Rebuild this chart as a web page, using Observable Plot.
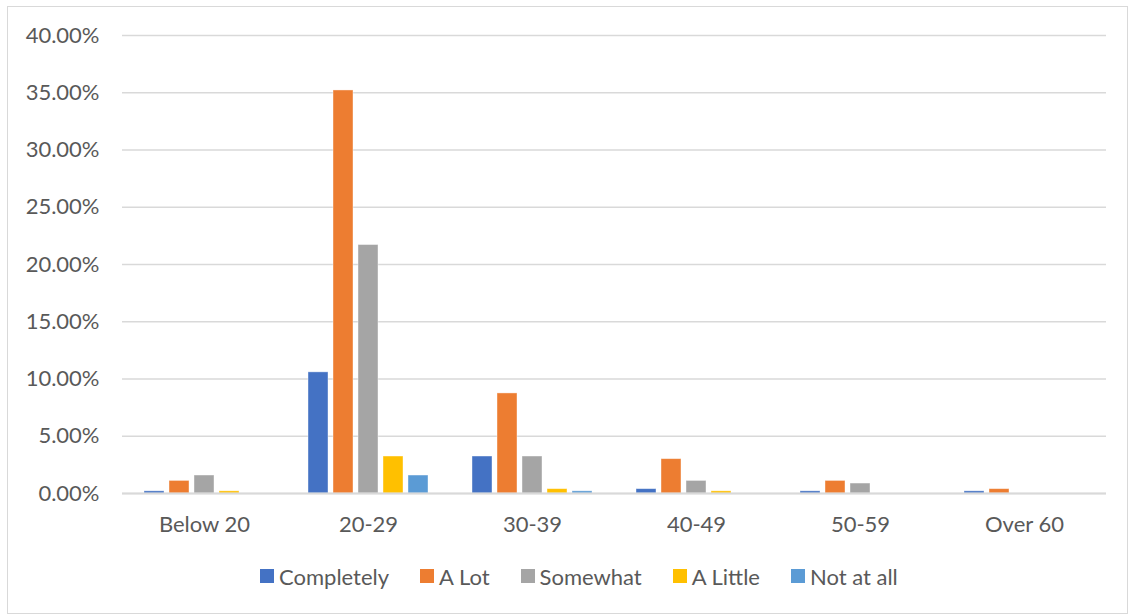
<!DOCTYPE html>
<html>
<head>
<meta charset="utf-8">
<script src="https://cdn.jsdelivr.net/npm/d3@7"></script>
<script src="https://cdn.jsdelivr.net/npm/@observablehq/plot@0.6"></script>
<style>
  html, body { margin: 0; padding: 0; background: #fff; overflow: hidden; }
  #wrap { position: relative; width: 1128px; height: 614px; font-family: Lato, "Open Sans", sans-serif; overflow: hidden; }
  #frame { position: absolute; left: 7px; top: 6px; width: 1121px; height: 608px; border: 1px solid #d9d9d9; box-sizing: border-box; }
  #chart { position: absolute; left: 0; top: 0; }
  #legend { position: absolute; left: 260px; top: 562px; }
</style>
</head>
<body>
<div id="wrap">
  <div id="frame"></div>
  <div id="chart"></div>
  <div id="legend"></div>
</div>
<script>
const categories = ["Below 20", "20-29", "30-39", "40-49", "50-59", "Over 60"];
const series = ["Completely", "A Lot", "Somewhat", "A Little", "Not at all"];
const colors = ["#4472C4", "#ED7D31", "#A5A5A5", "#FFC000", "#5B9BD5"];
const completely = [0.0019, 0.1058, 0.0323, 0.0038, 0.0019, 0.0019];
const aLot       = [0.0110, 0.3520, 0.0874, 0.0300, 0.0110, 0.0038];
const somewhat   = [0.0157, 0.2170, 0.0323, 0.0110, 0.0087, 0];
const aLittle    = [0.0019, 0.0323, 0.0038, 0.0019, 0, 0];
const notAtAll   = [0, 0.0157, 0.0019, 0, 0, 0];
const yTicks = [0, 0.05, 0.10, 0.15, 0.20, 0.25, 0.30, 0.35, 0.40];

const seriesValues = [completely, aLot, somewhat, aLittle, notAtAll];
const data = [];
categories.forEach((c, i) => {
  series.forEach((s, j) => data.push({category: c, series: s, value: seriesValues[j][i]}));
});

const textColor = "#595959";
const font = "Lato, 'Open Sans', sans-serif";
const plot = Plot.plot({
  width: 1128,
  height: 545,
  marginTop: 35,
  marginBottom: 52,
  marginLeft: 120,
  marginRight: 21,
  style: {fontFamily: font, fontSize: "22px", color: textColor, background: "transparent"},
  fx: {domain: categories, padding: 0, label: null},
  x: {domain: series, paddingInner: 0.2, paddingOuter: 0.8, axis: null},
  y: {domain: [0, 0.4], label: null},
  color: {domain: series, range: colors},
  marks: [
    Plot.gridY(yTicks, {stroke: "#d9d9d9", strokeOpacity: 1, strokeWidth: 1.3}),
    Plot.axisY(yTicks, {tickFormat: d3.format(".2%"), tickSize: 0, tickPadding: 23, fontSize: 22, label: null, fill: textColor}),
    Plot.axisFx({anchor: "bottom", tickSize: 0, tickPadding: 23, fontSize: 22, label: null, fill: textColor}),
    Plot.barY(data, {fx: "category", x: "series", y: "value", fill: "series", stroke: "white", strokeOpacity: 0.5, strokeWidth: 0.8}),
    Plot.ruleY([0], {stroke: "#d9d9d9", strokeWidth: 2})
  ]
});
document.getElementById("chart").appendChild(plot);

const legend = Plot.legend({
  color: {domain: series, range: colors},
  swatchSize: 14,
  style: {fontFamily: font, fontSize: "22px", color: textColor, background: "transparent"}
});
document.getElementById("legend").appendChild(legend);
</script>
<style>
  #legend > div { display: flex; gap: 0 31px; align-items: center; margin: 0 !important; min-height: 28px; white-space: nowrap; }
  #legend span { margin-right: 0 !important; }
  #legend svg { margin-right: 5px !important; }
</style>
</body>
</html>
